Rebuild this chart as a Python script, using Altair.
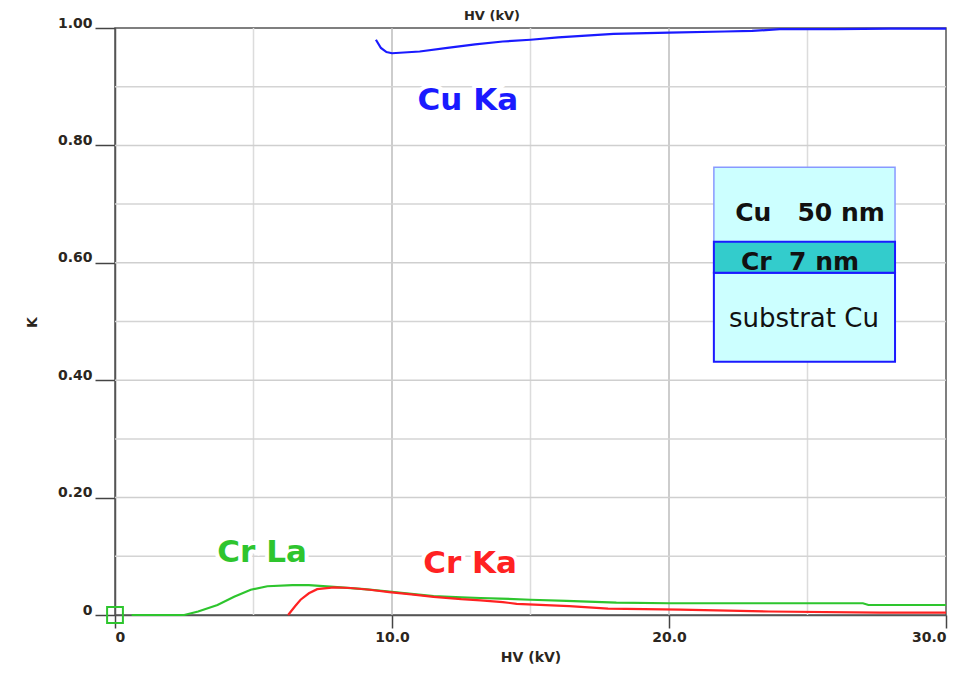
import altair as alt
import pandas as pd

# ---- data ----
cu_ka_hv = [9.42, 9.6, 9.8, 10.0, 11.0, 12.0, 13.0, 14.0, 15.0, 16.0, 17.0, 18.0, 20.0, 22.0, 23.0, 24.0, 26.0, 28.0, 30.0]
cu_ka_k = [0.980, 0.966, 0.959, 0.957, 0.960, 0.966, 0.972, 0.977, 0.980, 0.984, 0.987, 0.990, 0.992, 0.994, 0.995, 0.998, 0.998, 0.999, 0.999]

cr_la_hv = [0.6, 2.5, 3.0, 3.7, 4.3, 4.9, 5.5, 6.4, 7.0, 7.9, 9.0, 9.9, 10.7, 11.5, 12.5, 13.2, 13.9, 15.0, 16.3, 18.1, 20.0, 25.0, 27.0, 27.2, 30.0]
cr_la_k = [0.0, 0.0, 0.006, 0.017, 0.031, 0.043, 0.049, 0.051, 0.051, 0.048, 0.044, 0.040, 0.036, 0.032, 0.030, 0.029, 0.028, 0.026, 0.024, 0.021, 0.020, 0.020, 0.020, 0.017, 0.017]

cr_ka_hv = [6.25, 6.5, 6.7, 7.0, 7.3, 7.9, 8.5, 9.2, 9.9, 10.7, 11.5, 12.5, 13.2, 14.0, 14.5, 16.4, 17.8, 20.4, 23.6, 27.6, 30.0]
cr_ka_k = [0.0, 0.015, 0.026, 0.037, 0.044, 0.047, 0.046, 0.043, 0.039, 0.035, 0.031, 0.027, 0.025, 0.022, 0.019, 0.015, 0.011, 0.009, 0.006, 0.004, 0.004]

series_labels = ["Cu Ka", "Cr La", "Cr Ka"]
label_hv = [12.74, 5.31, 12.82]
label_k = [0.860, 0.0903, 0.0716]

x_ticks = [0, 10, 20, 30]
y_ticks = [0, 0.2, 0.4, 0.6, 0.8, 1.0]
x_grid_major = [10, 20]
x_grid_minor = [5, 15, 25]
y_grid_major = [0.2, 0.4, 0.6, 0.8]
y_grid_minor = [0.1, 0.3, 0.5, 0.7, 0.9]

# inset: layer stack
layer_names = ["Cu\u00a0\u00a0\u00a050\u00a0nm", "Cr\u00a0\u00a07\u00a0nm", "substrat\u00a0Cu"]
layer_x1 = [21.62, 21.62, 21.62]
layer_x2 = [28.16, 28.16, 28.16]
layer_top = [0.7627, 0.636, 0.583]
layer_bottom = [0.636, 0.583, 0.4315]
layer_text_hv = [25.09, 24.73, 24.87]
layer_text_k = [0.671, 0.588, 0.4906]

x_title = "HV (kV)"
y_title = "K"

BLUE = "#1a1aff"
GREEN = "#2ec52e"
RED = "#ff2222"

X = alt.X("hv:Q", scale=alt.Scale(domain=[0, 30], nice=False))
Y = alt.Y("k:Q", scale=alt.Scale(domain=[0, 1], nice=False))

def df(hv, k, **extra):
    d = {"hv": hv, "k": k}
    d.update(extra)
    return pd.DataFrame(d)

# grid rules
gx_minor = alt.Chart(pd.DataFrame({"hv": x_grid_minor})).mark_rule(color="#dcdcdc", strokeWidth=1.5).encode(x=alt.X("hv:Q"))
gx_major = alt.Chart(pd.DataFrame({"hv": x_grid_major})).mark_rule(color="#bdbdbd", strokeWidth=1.5).encode(x=alt.X("hv:Q"))
gy_minor = alt.Chart(pd.DataFrame({"k": y_grid_minor})).mark_rule(color="#d4d4d4", strokeWidth=1.5).encode(y=alt.Y("k:Q"))
gy_major = alt.Chart(pd.DataFrame({"k": y_grid_major})).mark_rule(color="#cfcfcf", strokeWidth=1.5).encode(y=alt.Y("k:Q"))

# base with axes
base = alt.Chart(df(cu_ka_hv, cu_ka_k)).mark_line(color=BLUE, strokeWidth=2.2).encode(
    x=alt.X("hv:Q", scale=alt.Scale(domain=[0, 30], nice=False),
            axis=alt.Axis(values=x_ticks, grid=False, title=x_title,
                          labelExpr="datum.value == 0 ? '0' : format(datum.value, '.1f')",
                          tickSize=13, labelPadding=2, titleX=415.5, titleY=46,
                          titleBaseline="alphabetic", titleAnchor="middle")),
    y=alt.Y("k:Q", scale=alt.Scale(domain=[0, 1], nice=False),
            axis=alt.Axis(values=y_ticks, grid=False, title=y_title,
                          labelExpr="datum.value == 0 ? '0' : format(datum.value, '.2f')",
                          tickSize=20, labelPadding=3, labelBaseline="alphabetic",
                          labelOffset=-1, titleX=-83, titleY=294, titleAngle=-90,
                          titleAlign="center", titleBaseline="middle")),
    order=alt.Order("hv:Q"),
)

la_line = alt.Chart(df(cr_la_hv, cr_la_k)).mark_line(color=GREEN, strokeWidth=2.2).encode(x=X, y=Y, order=alt.Order("hv:Q"))
ka_line = alt.Chart(df(cr_ka_hv, cr_ka_k)).mark_line(color=RED, strokeWidth=2.2).encode(x=X, y=Y, order=alt.Order("hv:Q"))

origin = alt.Chart(df([0], [0])).mark_point(shape="square", filled=False, color=GREEN, size=250, strokeWidth=2, opacity=1).encode(x=X, y=Y)

lab_df = df(label_hv, label_k, name=series_labels)
lab_halo = alt.Chart(lab_df).mark_text(font="DejaVu Sans", fontWeight="bold", fontSize=31, align="center",
                                       baseline="alphabetic", stroke="white", strokeWidth=8, color="white").encode(x=X, y=Y, text="name:N")
lab_text = alt.Chart(lab_df).mark_text(font="DejaVu Sans", fontWeight="bold", fontSize=31, align="center",
                                       baseline="alphabetic").encode(
    x=X, y=Y, text="name:N",
    color=alt.Color("name:N", scale=alt.Scale(domain=series_labels, range=[BLUE, GREEN, RED]), legend=None))

box_df = pd.DataFrame({"x1": layer_x1, "x2": layer_x2, "y1": layer_top, "y2": layer_bottom, "name": layer_names})
rect_top = alt.Chart(box_df.iloc[[0]]).mark_rect(fill="#ccffff", stroke="#8899ff", strokeWidth=1.5).encode(
    x="x1:Q", x2="x2:Q", y="y1:Q", y2="y2:Q")
rect_bot = alt.Chart(box_df.iloc[[2]]).mark_rect(fill="#ccffff", stroke="#1a1aff", strokeWidth=2).encode(
    x="x1:Q", x2="x2:Q", y="y1:Q", y2="y2:Q")
rect_mid = alt.Chart(box_df.iloc[[1]]).mark_rect(fill="#33cccc", stroke="#1a1aff", strokeWidth=2).encode(
    x="x1:Q", x2="x2:Q", y="y1:Q", y2="y2:Q")

txt_df = df(layer_text_hv, layer_text_k, name=layer_names)
box_txt_bold = alt.Chart(txt_df.iloc[[0, 1]]).mark_text(font="DejaVu Sans", fontWeight="bold", fontSize=25,
                                                        color="#111111", align="center", baseline="alphabetic").encode(x=X, y=Y, text="name:N")
box_txt_reg = alt.Chart(txt_df.iloc[[2]]).mark_text(font="DejaVu Sans", fontSize=26,
                                                    color="#111111", align="center", baseline="alphabetic").encode(x=X, y=Y, text="name:N")

top_title = alt.Chart(pd.DataFrame({"t": [x_title]})).mark_text(font="DejaVu Sans", fontWeight="bold", fontSize=13,
                                                                color="#2b2620", align="center", baseline="alphabetic").encode(
    x=alt.value(377), y=alt.value(-8), text="t:N")

chart = alt.layer(
    gx_minor, gx_major, gy_minor, gy_major,
    base, la_line, ka_line, origin,
    lab_halo, lab_text,
    rect_top, rect_bot, rect_mid, box_txt_bold, box_txt_reg,
    top_title,
).properties(
    width=831, height=587,
    autosize=alt.AutoSizeParams(type="none"),
    padding={"left": 107, "top": 20, "right": 17, "bottom": 49},
    background="white",
).configure_view(
    stroke="#555555", strokeWidth=1.5,
).configure_axis(
    domainColor="#555555", domainWidth=1.5, tickColor="#444444", tickWidth=1.5,
    labelFont="DejaVu Sans", labelFontWeight="bold", labelFontSize=14, labelColor="#2b2620",
    titleFont="DejaVu Sans", titleFontWeight="bold", titleFontSize=14, titleColor="#2b2620",
)

chart.save("out.html", embed_options={"renderer": "svg", "actions": False})
